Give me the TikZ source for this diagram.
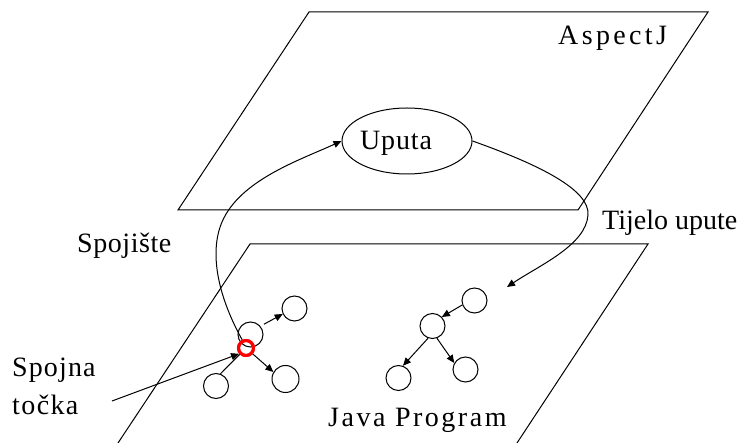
\documentclass[tikz,border=0pt]{standalone}
\usepackage{fontspec}
\setmainfont{Liberation Serif}
\usetikzlibrary{arrows.meta,shapes.geometric}
\tikzset{
  edge/.style={line width=1pt},
  arr/.style={line width=1pt,-{Triangle[length=8pt,width=7pt]}},
  circ/.style={draw,circle,minimum size=25pt,inner sep=0pt,line width=1pt},
  redc/.style={draw=red,circle,line width=3pt,minimum size=15pt,inner sep=0pt},
  txt/.style={inner sep=0pt,anchor=base west,font=\fontsize{28}{30}\selectfont},
}
\begin{document}
\begin{tikzpicture}[x=1pt,y=-1pt]
\useasboundingbox (0,0) rectangle (742,443);
% planes
\draw[edge] (309,12) -- (708,12) -- (578,210) -- (178,210) -- cycle;
\draw[edge] (118,443) -- (250,244) -- (648,244) -- (517,443);
% labels
\node[txt] (aspectj) at (558,45) {\addfontfeature{LetterSpace=12}AspectJ};
\node[draw,ellipse,minimum width=130pt,minimum height=66pt,inner sep=0pt,line width=1pt] (up) at (407,141) {};
\node[txt] (uputa) at (360,150) {\addfontfeature{LetterSpace=3}Uputa};
\node[txt] (spojiste) at (77,253) {\addfontfeature{LetterSpace=2}Spojište};
\node[txt] (tijelo) at (602,230) {Tijelo upute};
\node[txt] (spojna) at (12,377) {\addfontfeature{LetterSpace=4}Spojna};
\node[txt] (tocka) at (12,415) {\addfontfeature{LetterSpace=5}točka};
\node[txt] (java) at (328,427) {\addfontfeature{LetterSpace=9}Java Program};
% left tree
\node[circ] (A) at (294.5,308.5) {};
\node[circ] (B) at (250.5,334.5) {};
\node[circ,minimum size=27pt] (C) at (285.5,379) {};
\node[circ] (D) at (216,386) {};
\node[redc] (R) at (246,348) {};
% right tree
\node[circ] (E) at (474.5,300.5) {};
\node[circ] (F) at (432.5,326) {};
\node[circ] (G) at (398.5,378) {};
\node[circ] (H) at (465.5,369.5) {};
\coordinate (spstart) at (112,401);
\coordinate (tijtip) at (507,287);
% connectors
\draw[arr,shorten <=4pt] (B.40) -- (A.205);
\draw[arr] (R) -- (C.150);
\draw[edge] (R) -- (D.70);
\draw[arr] (spstart) -- (R.220);
\draw[arr] (E.200) -- (F.44);
\draw[arr] (F.250) -- (G.70);
\draw[arr] (F.290) -- (H.150);
\draw[arr] (R.115) .. controls (220,300) and (208,255) .. (222,222)
           .. controls (240,180) and (300,160) .. (up.west);
\draw[arr] (up.east) .. controls (540,165) and (590,190) .. (588,215)
           .. controls (586,245) and (540,265) .. (tijtip);
\node[redc] (Rtop) at (R) {};
\end{tikzpicture}
\end{document}
